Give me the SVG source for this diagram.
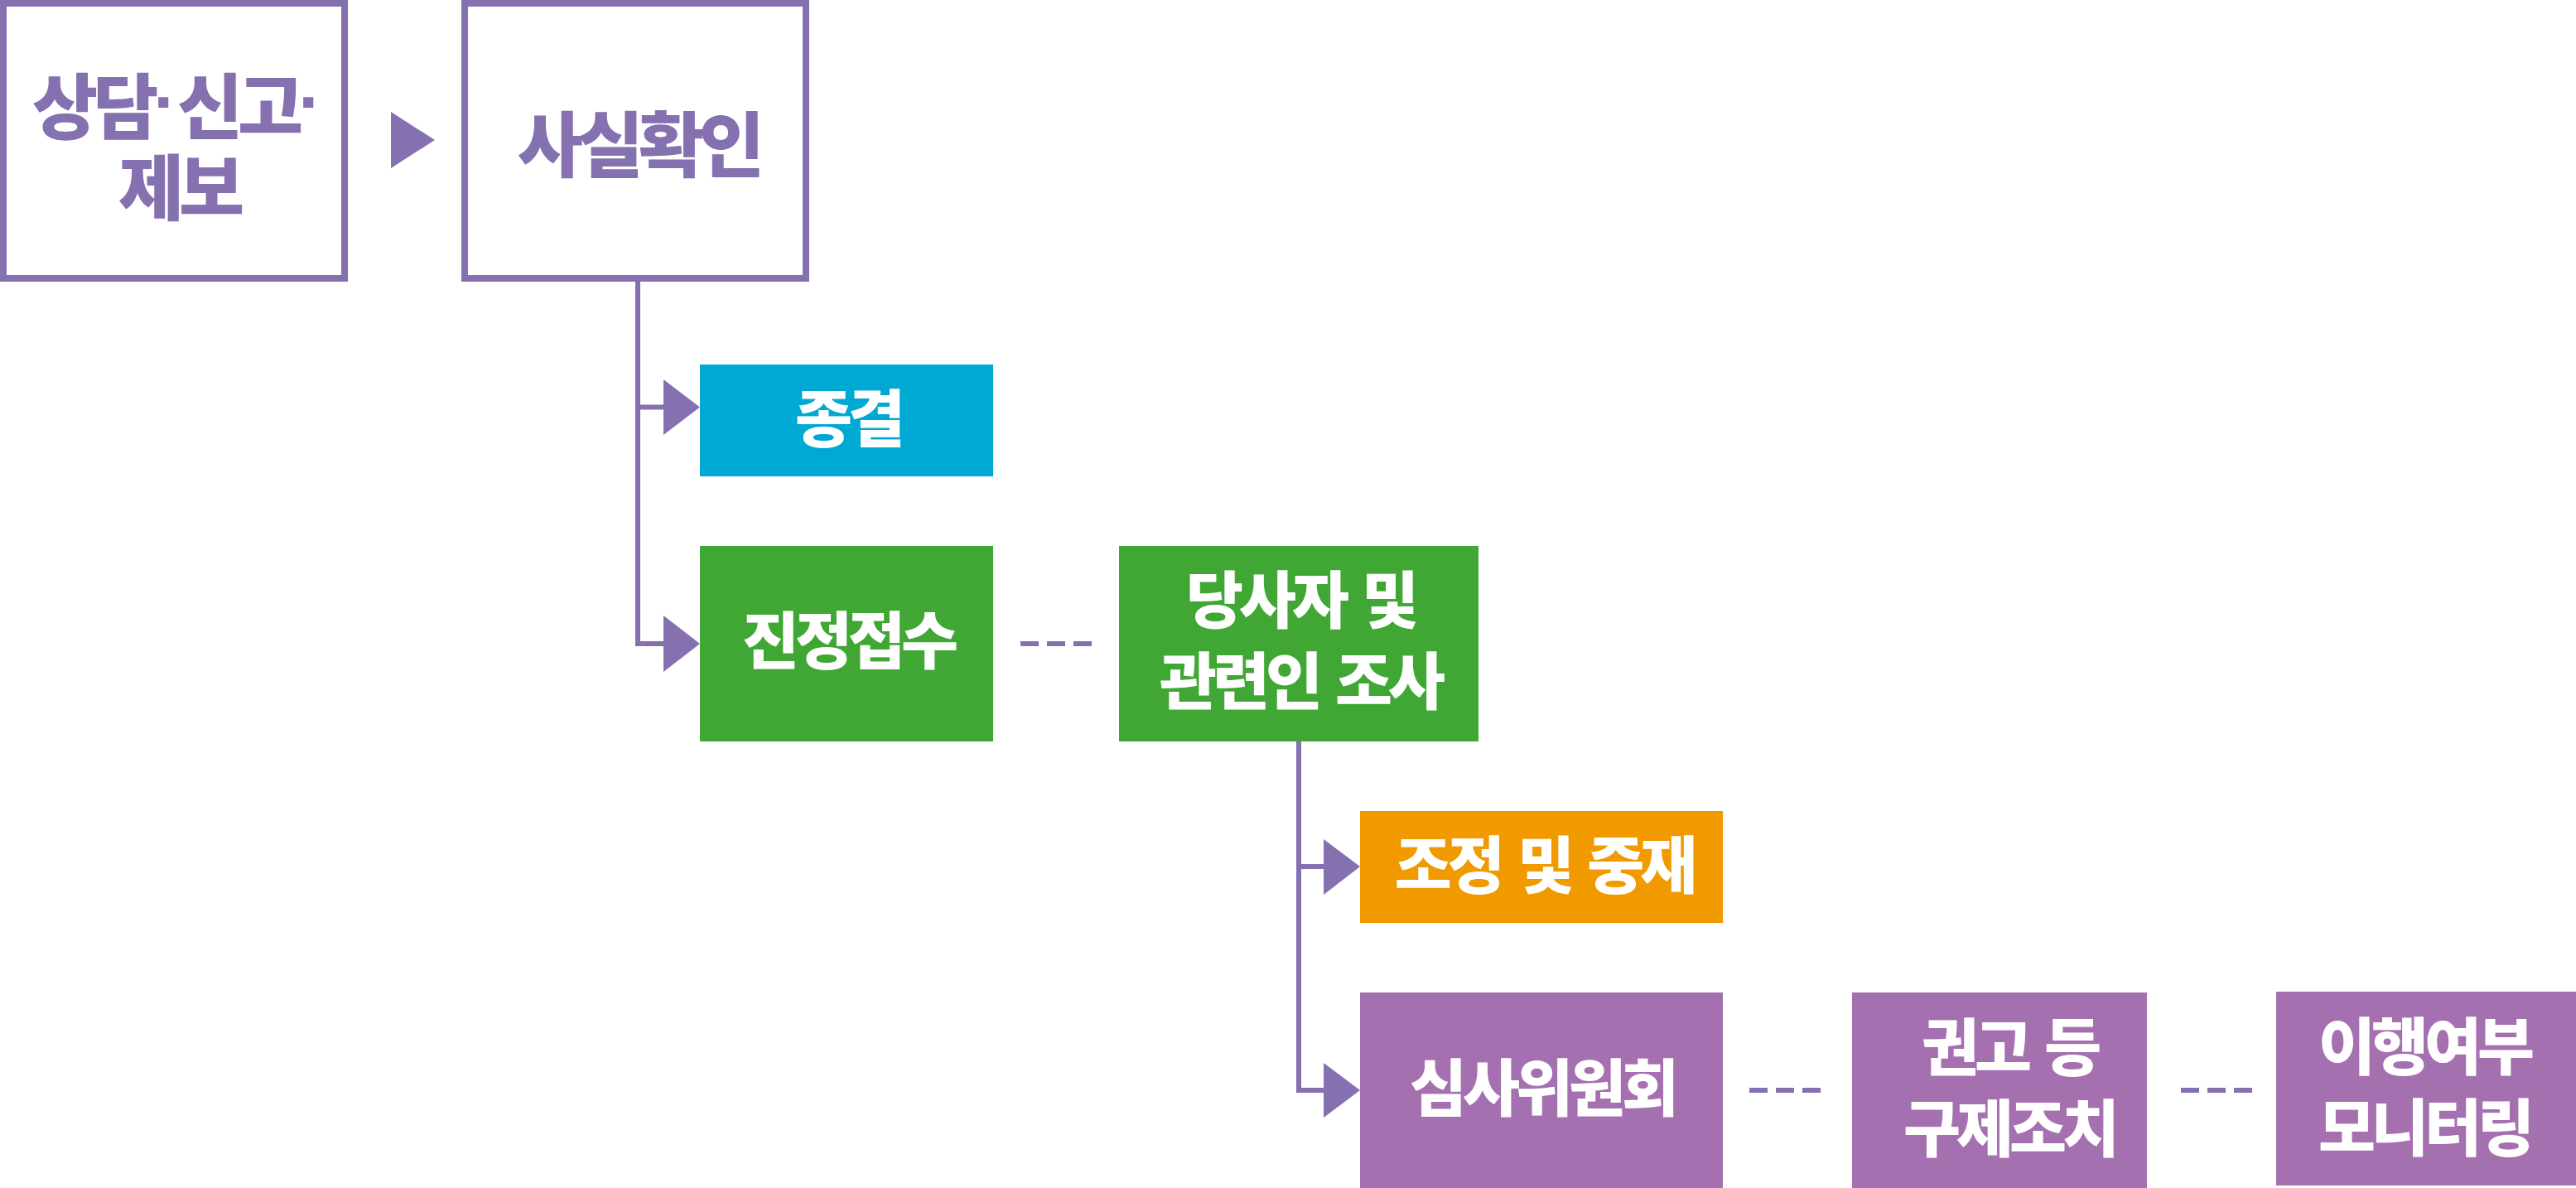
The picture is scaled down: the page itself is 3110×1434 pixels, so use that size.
<svg xmlns="http://www.w3.org/2000/svg" width="3110" height="1434" viewBox="0 0 3110 1434">
<style>
.t{font-family:"Noto Sans CJK KR","Noto Sans CJK SC",sans-serif;font-weight:900;text-anchor:middle}
.w{fill:#ffffff;font-size:75px;letter-spacing:-5px;word-spacing:8px}
.p{fill:#8570B0;font-size:86px;letter-spacing:-6px}
.d{font-family:"Liberation Sans",sans-serif;font-weight:700;letter-spacing:0}
.ob{fill:#ffffff;stroke:#8570B0;stroke-width:8}
.ln{stroke:#8570B0;stroke-width:6;fill:none}
.ar{fill:#8570B0}
</style>
<rect width="3110" height="1434" fill="#ffffff"/>
<g id="n1">
<rect class="ob" x="4" y="4" width="412" height="332"/>
<text class="t p" x="214" y="161">상담<tspan class="d" dy="-9">·</tspan><tspan dy="9">신고</tspan><tspan class="d" dy="-9">·</tspan></text>
<text class="t p" x="216" y="259">제보</text>
</g>
<g id="n2">
<rect class="ob" x="561" y="4" width="412" height="332"/>
<text class="t p" x="771" y="207">사실확인</text>
</g>
<g id="n3">
<rect x="845" y="440" width="354" height="135" fill="#00A8D4"/>
<text class="t w" x="1024" y="533">종결</text>
</g>
<g id="n4">
<rect x="845" y="659" width="354" height="236" fill="#40A735"/>
<text class="t w" x="1024" y="801">진정접수</text>
</g>
<g id="n5">
<rect x="1351" y="659" width="434" height="236" fill="#40A735"/>
<text class="t w" x="1570" y="752">당사자 및</text>
<text class="t w" x="1570" y="850">관련인 조사</text>
</g>
<g id="n6">
<rect x="1642" y="979" width="438" height="135" fill="#F09A00"/>
<text class="t w" x="1864" y="1072">조정 및 중재</text>
</g>
<g id="n7">
<rect x="1642" y="1198" width="438" height="236" fill="#A570AF"/>
<text class="t w" x="1862" y="1341">심사위원회</text>
</g>
<g id="n8">
<rect x="2236" y="1198" width="356" height="236" fill="#A570AF"/>
<text class="t w" x="2426" y="1292">권고 등</text>
<text class="t w" x="2426" y="1390">구제조치</text>
</g>
<g id="n9">
<rect x="2748" y="1197" width="362" height="234" fill="#A570AF"/>
<text class="t w" x="2927" y="1291">이행여부</text>
<text class="t w" x="2927" y="1389">모니터링</text>
</g>
<g id="connectors">
<polygon class="ar" points="472,135 525,169 472,203"/>
<path class="ln" d="M770,339 V780 M767,491.5 H805 M767,777 H805"/>
<polygon class="ar" points="801,458 845,491.5 801,525"/>
<polygon class="ar" points="801,743 845,777 801,811"/>
<path class="ln" d="M1232,777 H1318" stroke-dasharray="22 10"/>
<path class="ln" d="M1568,895 V1319 M1565,1046 H1602 M1565,1316 H1602"/>
<polygon class="ar" points="1598,1013 1642,1046 1598,1080"/>
<polygon class="ar" points="1598,1283 1642,1316 1598,1349"/>
<path class="ln" d="M2112,1316 H2198" stroke-dasharray="22 10"/>
<path class="ln" d="M2633,1316 H2719" stroke-dasharray="22 10"/>
</g>
</svg>
